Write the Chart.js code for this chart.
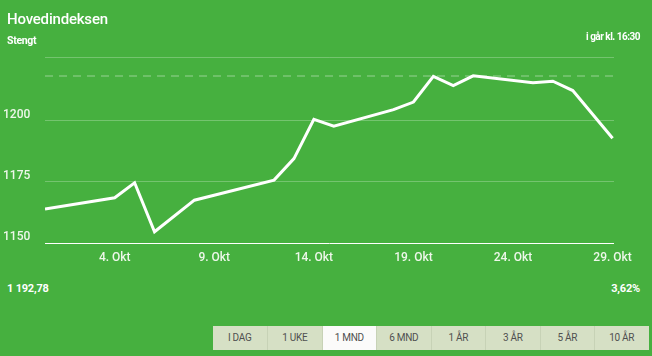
<!DOCTYPE html>
<html>
<head>
<meta charset="utf-8">
<script src="https://cdn.jsdelivr.net/npm/chart.js@4/dist/chart.umd.min.js"></script>
<style>
  html, body { margin:0; padding:0; }
  body { width:652px; height:356px; background:#46b03f; overflow:hidden; font-family: Roboto, "Open Sans", sans-serif; }
  #wrap { position:relative; width:652px; height:356px; }
  #c { position:absolute; left:0; top:0; }
  .t { position:absolute; color:#fff; white-space:nowrap; }
  #title { left:7px; top:12px; font-size:15px; line-height:15px; font-weight:500; letter-spacing:-0.2px; }
  #status { left:7px; top:35px; font-size:10.5px; line-height:11px; font-weight:700; letter-spacing:-0.3px; }
  #time { right:12px; top:31px; font-size:10px; line-height:11px; font-weight:700; letter-spacing:-0.5px; }
  #last { left:7px; top:283px; font-size:11px; line-height:12px; font-weight:700; letter-spacing:-0.2px; }
  #pct { right:12px; top:283px; font-size:11px; line-height:12px; font-weight:700; letter-spacing:-0.2px; }
  #btns { position:absolute; left:212.5px; top:325.5px; height:24.5px; display:flex; }
  #btns div { width:54.5px; height:24.5px; line-height:24.5px; text-align:center; background:#d6e0c5; color:#505050; font-size:10px; letter-spacing:-0.3px; box-sizing:border-box; border-left:1px solid #c7d2b6; }
  #btns div:first-child { border-left:none; }
  #btns div.on { background:#fbfbfa; }
</style>
</head>
<body>
<div id="wrap">
  <canvas id="c" width="652" height="270"></canvas>
  <div class="t" id="title">Hovedindeksen</div>
  <div class="t" id="status">Stengt</div>
  <div class="t" id="time">i går kl. 16:30</div>
  <div class="t" id="last">1 192,78</div>
  <div class="t" id="pct">3,62%</div>
  <div id="btns"></div>
</div>
<script>
// Day of October for each point on the line
const days = [0.5, 4, 5, 6, 8, 12, 13, 14, 15, 18, 19, 20, 21, 22, 25, 26, 27, 29];
// Index values
const values = [1163.9, 1168.5, 1174.6, 1154.6, 1167.5, 1175.7, 1184.5, 1200.5, 1197.7, 1204.5, 1207.6, 1218.1, 1214.3, 1218.3, 1215.5, 1216.1, 1212.3, 1192.78];
// Dashed reference level
const referenceLevel = 1218.2;
// Axis ticks
const xTickDays = [4, 9, 14, 19, 24, 29];
const monthLabel = 'Okt';
const yTickValues = [1150, 1175, 1200, 1226];
const yMin = 1150, yMax = 1226;
const xMin = 0.5, xMax = 29.07;
const periods = ['I DAG', '1 UKE', '1 MND', '6 MND', '1 ÅR', '3 ÅR', '5 ÅR', '10 ÅR'];
const activePeriod = '1 MND';

const btns = document.getElementById('btns');
periods.forEach(p => {
  const d = document.createElement('div');
  d.textContent = p;
  if (p === activePeriod) d.className = 'on';
  btns.appendChild(d);
});

const lineData = days.map((d, i) => ({ x: d, y: values[i] }));
const refData = [{ x: xMin, y: referenceLevel }, { x: xMax, y: referenceLevel }];

new Chart(document.getElementById('c'), {
  type: 'line',
  data: {
    datasets: [
      { data: refData, borderColor: 'rgba(255,255,255,0.22)', borderWidth: 2, borderDash: [8, 6], pointRadius: 0, tension: 0 },
      { data: lineData, borderColor: '#ffffff', borderWidth: 3, pointRadius: 0, tension: 0, borderJoinStyle: 'miter' }
    ]
  },
  options: {
    responsive: false,
    animation: false,
    devicePixelRatio: 1,
    layout: { padding: { top: 57, left: 3, right: 38, bottom: 0 } },
    plugins: { legend: { display: false }, tooltip: { enabled: false } },
    scales: {
      x: {
        type: 'linear', min: xMin, max: xMax,
        afterBuildTicks: s => { s.ticks = xTickDays.map(v => ({ value: v })); },
        afterFit: s => { s.height = 27; },
        grid: { display: false, drawTicks: false },
        border: { display: false },
        ticks: { autoSkip: false, maxRotation: 0, padding: 8, color: '#eef7ea', font: { family: 'Roboto', size: 12, weight: 500 },
          callback: v => v + '. ' + monthLabel }
      },
      y: {
        type: 'linear', min: yMin, max: yMax,
        afterBuildTicks: s => { s.ticks = yTickValues.map(v => ({ value: v })); },
        afterFit: s => { s.width = 42; },
        grid: { drawTicks: false, lineWidth: 1,
          color: c => (c.tick && c.tick.value === yMin) ? '#ffffff' : 'rgba(255,255,255,0.25)' },
        border: { display: false },
        ticks: { crossAlign: 'far', padding: 0, labelOffset: -6, color: '#eef7ea', font: { family: 'Roboto', size: 12, weight: 500 },
          callback: v => (v === yMax ? '' : String(v)) }
      }
    }
  }
});
</script>
</body>
</html>
